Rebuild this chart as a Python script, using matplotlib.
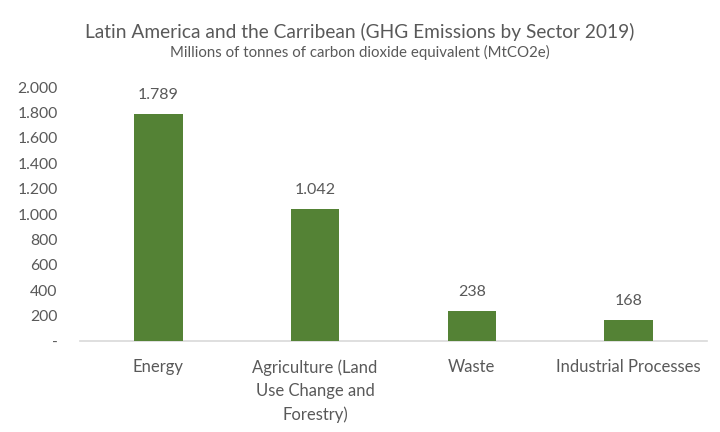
import numpy as np
import matplotlib
matplotlib.use("Agg")
import matplotlib.pyplot as plt
from matplotlib.ticker import FuncFormatter

plt.rcParams["font.family"] = ["Lato", "DejaVu Sans"]

# Data
sectors = ["Energy", "Agriculture (Land\nUse Change and\nForestry)", "Waste", "Industrial Processes"]
emissions = [1789, 1042, 238, 168]
y_ticks = [0, 200, 400, 600, 800, 1000, 1200, 1400, 1600, 1800, 2000]

TEXT = "#595959"
BAR = "#548235"


def dot_thousands(v, pos=None):
    if v == 0:
        return "-"
    return f"{int(v):,}".replace(",", ".")


fig = plt.figure(figsize=(7.2, 4.32), dpi=100)
ax = fig.add_axes([0.111, 0.2106, 0.871, 0.588])

x = np.arange(len(sectors))
bars = ax.bar(x, emissions, width=0.31, color=BAR, zorder=3)

for xi, v in zip(x, emissions):
    ax.text(xi, v + 95, dot_thousands(v), ha="center", va="bottom",
            fontsize=11.5, color=TEXT)

ax.set_xlim(-0.5, len(sectors) - 0.5)
ax.set_ylim(0, 2000)
ax.set_yticks(y_ticks)
ax.yaxis.set_major_formatter(FuncFormatter(dot_thousands))
ax.set_xticks(x)
ax.set_xticklabels(sectors, linespacing=1.55, va="top")

ax.tick_params(axis="y", length=0, pad=16, labelsize=11.3, labelcolor=TEXT)
ax.tick_params(axis="x", length=0, pad=13, labelsize=12, labelcolor=TEXT)
for lbl in ax.get_yticklabels():
    lbl.set_horizontalalignment("right")

for side in ["top", "right", "left"]:
    ax.spines[side].set_visible(False)
ax.spines["bottom"].set_color("#D9D9D9")
ax.spines["bottom"].set_linewidth(1.2)

fig.text(0.5, 0.925, "Latin America and the Carribean (GHG Emissions by Sector 2019)",
         ha="center", va="center", fontsize=13.8, color=TEXT)
fig.text(0.5, 0.878, "Millions of tonnes of carbon dioxide equivalent (MtCO2e)",
         ha="center", va="center", fontsize=10.8, color=TEXT)

fig.savefig("out.png", dpi=100)
